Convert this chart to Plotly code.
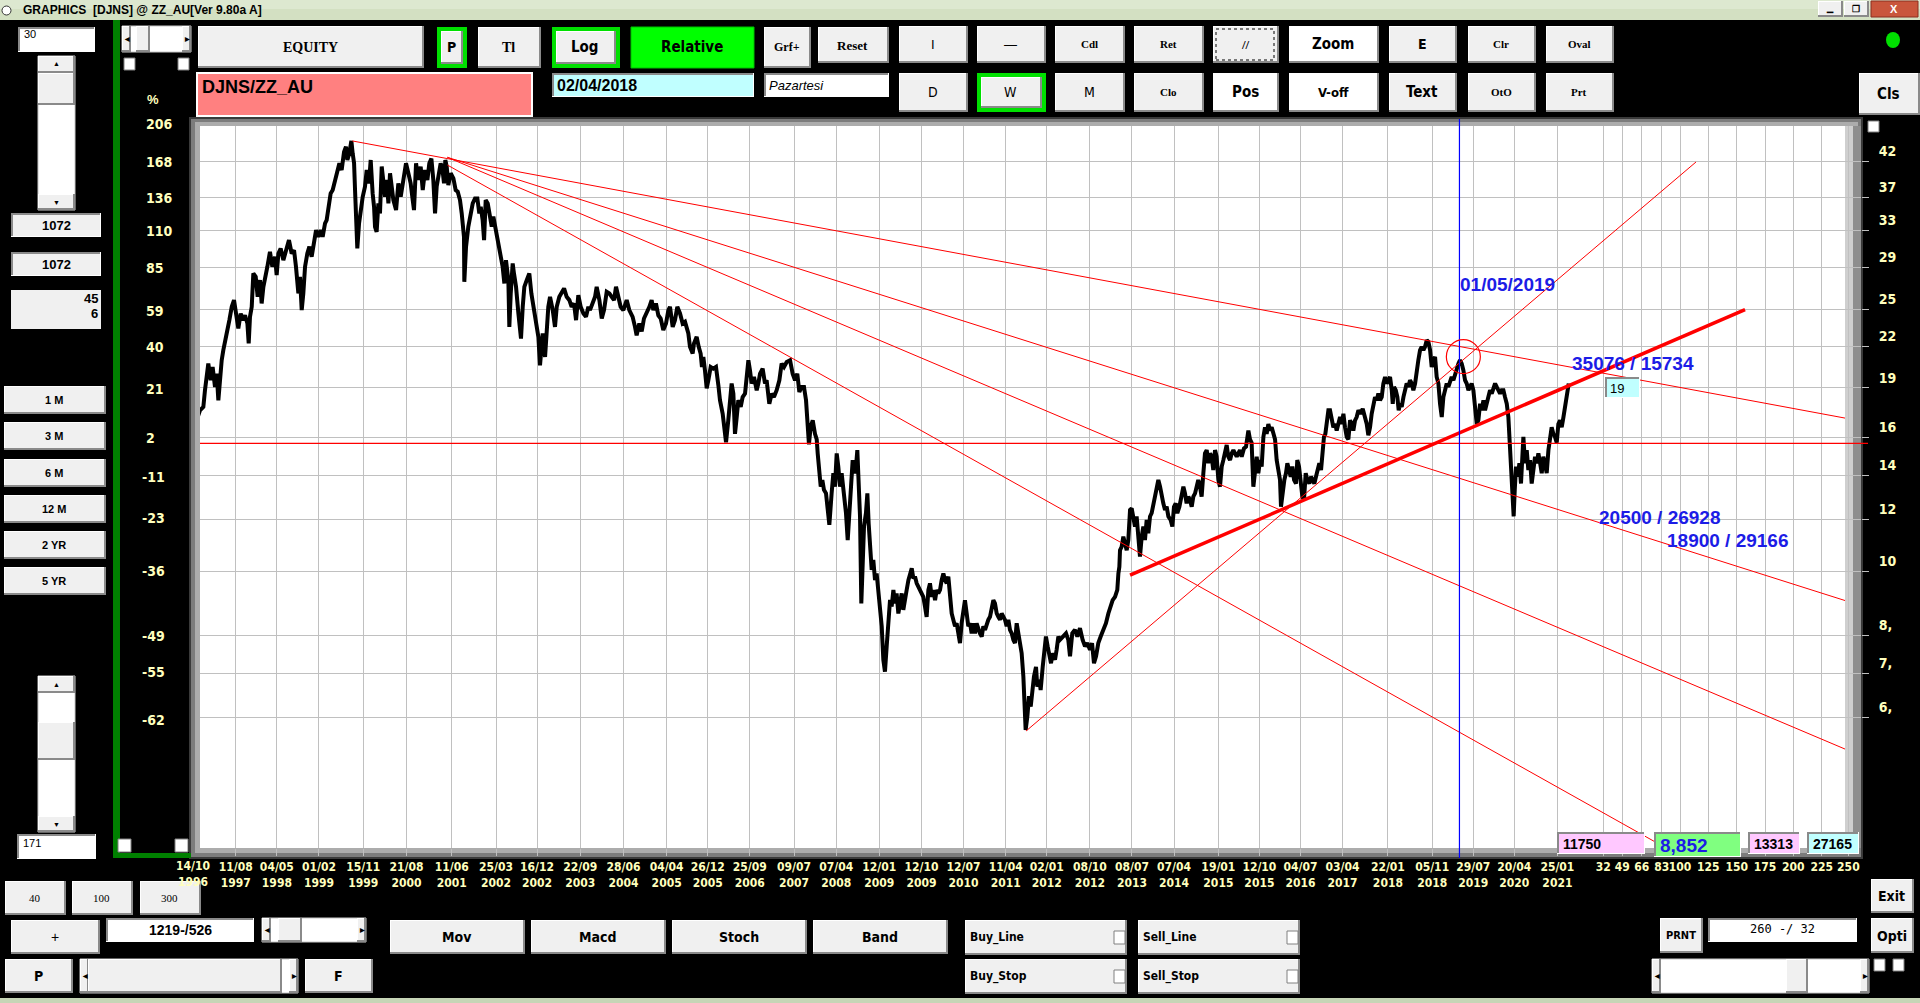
import numpy as np
import pandas as pd
import plotly.graph_objects as go

# ---------------------------------------------------------------------------
# data
# weekly DJNS/ZZ_AU ratio: (weeks after the 14/10/1996 bar, ratio level)
# ---------------------------------------------------------------------------
RATIO_1996_2004 = [
    (2.1, 15.6), (6.7, 16.97), (9.8, 17.57), (12.9, 17.78), (14.4, 18.85), (16.0, 19.75), (17.5, 20.69),
    (19.7, 19.52), (21.5, 20.45), (23.7, 19.07), (25.3, 19.98), (26.8, 18.2), (28.3, 19.98), (29.9, 20.94),
    (31.4, 21.69), (33.0, 22.2), (34.5, 22.99), (37.0, 24.09), (39.2, 25.24), (41.3, 25.84), (43.2, 24.37),
    (45.3, 23.4), (47.5, 24.66), (49.3, 24.09), (51.5, 24.5), (53.7, 23.81), (54.9, 22.2), (56.1, 24.37),
    (57.7, 25.24), (59.2, 28.37), (61.4, 28.04), (63.2, 26.14), (65.4, 27.71), (66.9, 25.54), (68.5, 27.07),
    (70.0, 27.71), (72.2, 29.04), (74.6, 30.6), (76.8, 29.04), (79.3, 30.07), (80.8, 28.2), (82.4, 30.42),
    (84.5, 30.96), (87.0, 29.72), (90.1, 31.15), (92.2, 31.88), (94.7, 30.42), (96.9, 30.78), (98.7, 29.04),
    (100.9, 26.45), (102.4, 28.04), (104.0, 24.95), (105.5, 26.45), (107.1, 29.04), (109.2, 30.42),
    (111.1, 31.15), (113.2, 30.07), (115.4, 31.88), (117.3, 33.01), (119.4, 32.25), (121.6, 33.01),
    (123.4, 32.25), (125.6, 33.79), (127.1, 34.19), (128.7, 35.83), (130.8, 37.54), (132.7, 37.98),
    (134.9, 39.34), (137.0, 40.27), (138.9, 41.71), (141.0, 40.74), (143.2, 43.4), (145.0, 44.2),
    (146.3, 42.19), (148.1, 43.18), (150.0, 45.1), (151.2, 43.18), (152.5, 41.71), (153.4, 37.98),
    (154.3, 33.01), (155.5, 30.96), (157.1, 33.79), (158.6, 35.41), (160.5, 37.1), (162.6, 38.42),
    (164.2, 40.74), (166.3, 38.88), (167.9, 42.19), (169.7, 37.54), (171.0, 35.83), (171.9, 33.4),
    (173.4, 32.82), (175.0, 36.25), (176.5, 35.0), (178.1, 41.23), (179.6, 38.88), (181.2, 37.1),
    (182.7, 39.34), (184.3, 36.25), (185.8, 40.27), (187.3, 37.98), (188.9, 36.67), (191.4, 35.41),
    (193.5, 38.88), (195.7, 37.1), (198.1, 39.8), (200.6, 41.71), (202.8, 40.27), (204.9, 38.88),
    (206.8, 36.67), (208.0, 35.41), (209.9, 41.71), (212.0, 39.34), (214.2, 41.23), (216.1, 37.98),
    (218.2, 40.74), (220.4, 39.34), (222.2, 41.71), (224.1, 42.4), (225.9, 39.34), (227.5, 35.0),
    (229.0, 38.42), (230.6, 40.27), (232.7, 41.71), (234.6, 40.5), (235.8, 38.88), (237.0, 42.19),
    (238.3, 41.23), (239.8, 38.65), (242.0, 40.27), (244.5, 39.57), (246.6, 37.98), (248.5, 37.76),
    (250.6, 36.67), (252.2, 35.0), (253.1, 33.4), (254.3, 32.25), (254.6, 27.55), (256.2, 31.15),
    (258.3, 33.4), (260.5, 35.0), (262.4, 36.25), (264.5, 36.88), (266.7, 36.88), (268.5, 35.0),
    (269.8, 35.83), (271.6, 34.19), (272.9, 31.88), (274.4, 36.67), (276.3, 36.25), (278.4, 34.6),
    (280.0, 33.4), (281.5, 34.6), (284.0, 33.01), (286.1, 31.51), (288.3, 30.42), (290.1, 29.04),
    (291.7, 27.39), (293.2, 29.72), (295.4, 27.71), (296.3, 23.53), (297.6, 26.45), (299.4, 29.38),
    (300.6, 28.37), (302.5, 27.07), (304.7, 24.66), (307.1, 22.59), (308.7, 25.24), (310.2, 27.07),
    (312.4, 27.71), (314.8, 28.37), (316.7, 26.45), (318.6, 25.24), (321.0, 24.09), (323.2, 22.72),
    (324.7, 20.57), (327.2, 22.99), (329.4, 21.18), (330.9, 23.53), (332.4, 25.24), (334.0, 26.14),
    (336.5, 24.95), (338.6, 23.53), (340.2, 25.24), (342.6, 26.14), (344.8, 26.45), (347.0, 26.92),
    (349.4, 26.14), (351.9, 25.84), (354.0, 25.24), (356.2, 25.54), (358.1, 24.09), (360.2, 26.3),
    (362.4, 25.24), (364.9, 24.66), (367.3, 24.37), (369.5, 25.24), (371.0, 24.95), (373.5, 25.54),
    (375.7, 26.14), (377.2, 27.07), (379.7, 25.84), (381.9, 24.23), (384.0, 24.95), (386.5, 26.6),
    (389.0, 26.45), (391.1, 26.14), (393.3, 25.84), (395.1, 27.07), (397.3, 26.14), (399.4, 25.24),
]

RATIO_2004_2011 = [
    (401.9, 24.95), (405.0, 25.84), (407.4, 24.95), (410.5, 24.37), (412.7, 23.53), (414.2, 22.85),
    (416.7, 23.81), (418.9, 23.15), (421.0, 24.23), (423.5, 24.66), (426.0, 25.24), (428.1, 25.84),
    (429.7, 24.95), (432.1, 25.54), (434.3, 24.5), (436.5, 24.23), (438.9, 23.27), (441.4, 23.81),
    (443.6, 24.95), (445.1, 25.24), (447.6, 23.53), (449.7, 24.09), (451.9, 25.24), (454.4, 24.66),
    (456.8, 23.81), (459.0, 23.95), (460.5, 23.53), (462.1, 22.99), (463.6, 21.94), (466.1, 21.43),
    (467.3, 22.2), (469.8, 22.72), (471.7, 21.94), (473.5, 21.43), (474.7, 20.45), (476.0, 21.18),
    (477.5, 20.2), (479.1, 18.97), (480.6, 19.52), (482.8, 20.45), (485.2, 20.33), (487.7, 20.45),
    (489.9, 19.19), (491.4, 18.2), (493.9, 17.36), (495.7, 16.18), (497.0, 15.71), (499.1, 16.97),
    (500.7, 18.2), (502.2, 19.3), (503.8, 18.63), (505.3, 16.18), (506.9, 17.16), (508.4, 18.2),
    (510.6, 17.78), (512.4, 18.4), (514.6, 18.63), (516.1, 19.75), (517.7, 20.94), (519.2, 20.2),
    (520.7, 19.3), (522.9, 19.75), (525.4, 18.85), (526.9, 19.3), (528.5, 19.98), (530.9, 20.33),
    (533.1, 19.3), (534.6, 19.52), (537.1, 17.98), (539.3, 18.63), (541.4, 18.4), (543.9, 18.85),
    (546.4, 19.52), (548.5, 20.69), (550.7, 20.45), (553.2, 20.81), (556.3, 20.94), (558.7, 19.98),
    (560.9, 19.52), (563.0, 19.98), (564.9, 18.74), (567.1, 19.07), (569.2, 19.07), (571.1, 18.2),
    (572.6, 16.97), (573.8, 15.6), (575.4, 16.6), (577.3, 16.97), (579.4, 16.18), (581.0, 15.87),
    (581.9, 15.11), (583.4, 14.1), (584.7, 13.45), (586.2, 13.77), (587.7, 13.3), (589.6, 13.14),
    (591.4, 12.26), (592.7, 11.77), (594.8, 13.14), (596.4, 14.1), (597.9, 13.45), (599.5, 15.11),
    (601.0, 14.43), (602.6, 13.45), (604.1, 14.1), (606.3, 13.14), (608.1, 12.26), (609.7, 11.16),
    (611.2, 12.26), (612.8, 13.14), (614.3, 14.76), (615.8, 14.1), (617.4, 14.43), (618.6, 15.29),
    (619.9, 13.14), (621.1, 12.12), (622.3, 8.94), (623.6, 11.03), (624.8, 11.7), (626.6, 12.26),
    (627.9, 13.14), (629.1, 11.83), (630.4, 11.03), (631.9, 10.05), (633.4, 10.41), (635.0, 9.7),
    (636.5, 9.93), (638.1, 9.26), (639.6, 8.73), (641.2, 8.25), (642.7, 7.34), (644.2, 7.04),
    (645.8, 7.69), (647.3, 8.44), (648.9, 9.05), (650.4, 8.84), (652.0, 9.37), (653.5, 8.94),
    (655.0, 9.26), (656.6, 8.63), (658.1, 9.04), (659.7, 9.26), (661.2, 8.74), (662.8, 9.15),
    (664.3, 9.37), (665.9, 9.7), (667.4, 9.93), (669.0, 10.11), (670.5, 9.76), (672.0, 9.82),
    (673.6, 9.59), (675.1, 9.48), (676.7, 9.37), (678.2, 9.26), (679.7, 9.15), (681.3, 8.84),
    (682.8, 8.53), (684.4, 9.37), (685.9, 9.59), (687.5, 9.15), (689.0, 9.37), (690.6, 9.04),
    (692.1, 9.37), (693.6, 9.26), (695.2, 9.37), (696.7, 9.7), (698.3, 9.93), (699.8, 9.7),
    (701.4, 9.59), (702.9, 9.82), (704.4, 9.26), (706.0, 8.63), (707.5, 8.44), (709.1, 8.25),
    (710.6, 8.34), (712.2, 7.96), (713.7, 7.78), (715.2, 8.34), (716.8, 8.74), (718.3, 9.04),
    (719.9, 8.63), (721.4, 8.25), (723.0, 8.34), (724.5, 8.05), (726.1, 8.34), (727.6, 8.05),
    (729.1, 8.34), (730.7, 8.15), (732.2, 8.05), (733.8, 7.96), (735.3, 8.25), (736.9, 8.15),
    (738.4, 8.34), (739.9, 8.44), (741.5, 8.53), (743.0, 8.84), (744.6, 9.04), (746.1, 8.94),
    (747.7, 8.63), (749.2, 8.53), (750.8, 8.44), (752.3, 8.63), (753.8, 8.53), (755.4, 8.44),
    (756.9, 8.25), (758.5, 8.44), (760.0, 8.15), (761.6, 8.05), (763.1, 7.87), (764.6, 7.78),
    (766.2, 8.34), (767.7, 8.05), (769.3, 7.78), (770.8, 7.51), (772.4, 6.92), (773.3, 6.38),
    (774.5, 5.74), (776.1, 6.02), (777.6, 6.46), (779.2, 6.23), (781.0, 6.68), (782.2, 6.92),
    (784.1, 7.16), (785.3, 6.68), (787.2, 6.84), (788.4, 6.6), (790.3, 7.16), (791.8, 7.51),
    (793.3, 7.96), (794.9, 7.69), (796.4, 7.51), (798.0, 7.25), (799.5, 7.51), (801.7, 7.34),
    (803.2, 7.6), (804.8, 7.96), (806.3, 7.87),
]

RATIO_2011_2017 = [
    (809.4, 7.96), (811.9, 8.05), (814.0, 7.87), (815.6, 7.43), (817.7, 8.05), (820.2, 8.15),
    (822.4, 7.96), (824.8, 8.2), (827.3, 7.87), (829.5, 7.69), (831.6, 7.78), (834.1, 7.6),
    (836.0, 7.78), (837.8, 7.25), (839.7, 7.43), (841.8, 7.78), (844.0, 7.96), (846.5, 8.15),
    (848.9, 8.34), (851.1, 8.63), (853.3, 8.84), (855.1, 9.04), (857.3, 9.15), (859.4, 9.37),
    (860.4, 9.93), (861.3, 10.16), (861.9, 10.77), (863.4, 10.9), (865.0, 11.29), (866.5, 11.03),
    (868.1, 10.77), (869.6, 11.16), (871.2, 12.4), (872.7, 12.47), (874.2, 11.97), (875.8, 11.7),
    (877.3, 12.12), (878.9, 11.16), (880.4, 10.53), (882.0, 11.29), (883.5, 11.7), (885.0, 11.16),
    (886.6, 11.97), (888.1, 11.43), (889.7, 12.12), (891.2, 12.26), (892.8, 12.69), (894.3, 12.99),
    (895.9, 13.6), (897.4, 13.77), (899.0, 13.45), (900.5, 12.99), (902.0, 12.69), (903.6, 12.4),
    (905.1, 12.54), (906.7, 12.12), (908.8, 11.97), (910.4, 11.7), (911.9, 12.54), (913.5, 12.69),
    (915.0, 12.26), (916.9, 12.54), (918.4, 12.84), (920.6, 13.45), (922.1, 13.14), (923.6, 12.69),
    (925.2, 12.99), (926.7, 12.84), (928.3, 12.54), (929.8, 12.99), (931.4, 13.14), (932.9, 13.45),
    (934.4, 13.77), (936.0, 13.45), (937.5, 12.99), (939.1, 14.1), (940.6, 15.11), (942.2, 15.29),
    (943.7, 14.6), (945.3, 15.11), (946.8, 14.94), (948.3, 14.26), (949.9, 15.29), (951.4, 14.94),
    (953.0, 13.77), (954.5, 13.45), (956.1, 14.43), (957.6, 14.76), (959.1, 15.29), (960.7, 15.56),
    (962.2, 14.94), (963.8, 14.76), (965.3, 15.11), (966.9, 15.29), (970.0, 14.94), (973.0, 15.29),
    (974.6, 14.94), (976.7, 15.38), (978.6, 15.47), (979.8, 16.18), (980.8, 16.37), (982.3, 15.87),
    (983.8, 15.69), (985.4, 13.45), (986.9, 14.43), (988.5, 14.94), (990.0, 14.1), (991.6, 14.76),
    (993.1, 14.43), (994.7, 16.01), (996.2, 16.56), (997.7, 16.18), (999.3, 16.75), (1000.8, 16.37),
    (1002.4, 16.56), (1003.9, 16.18), (1005.5, 15.87), (1007.0, 14.76), (1008.5, 14.26), (1010.1, 13.77),
    (1011.0, 12.54), (1012.6, 13.3), (1014.1, 13.77), (1015.6, 14.1), (1016.9, 14.6), (1018.4, 14.26),
    (1020.0, 13.93), (1021.5, 14.43), (1023.1, 13.77), (1024.9, 13.6), (1026.1, 14.76), (1027.7, 14.43),
    (1029.2, 13.77), (1030.8, 12.99), (1032.3, 12.84), (1033.9, 14.1), (1035.4, 13.77), (1037.3, 13.6),
    (1038.8, 13.93), (1040.3, 13.77), (1041.9, 13.6), (1043.4, 13.93), (1045.0, 14.26), (1046.5, 14.6),
    (1048.1, 14.26), (1049.6, 15.47), (1050.8, 16.01), (1052.1, 16.18), (1053.3, 16.75), (1054.9, 17.57),
    (1056.4, 17.57), (1057.9, 16.97), (1059.5, 16.56), (1061.0, 16.75), (1062.6, 16.37), (1064.1, 16.75),
]

RATIO_2017_2021 = [
    (1065.7, 17.16), (1067.2, 16.75), (1068.8, 17.36), (1070.3, 16.56), (1071.9, 16.01), (1073.4, 15.87),
    (1075.0, 16.97), (1076.5, 16.75), (1078.0, 16.37), (1079.6, 16.97), (1081.1, 17.16), (1082.7, 17.57),
    (1084.8, 17.36), (1086.7, 17.67), (1088.9, 17.16), (1090.4, 16.75), (1091.9, 16.1), (1093.5, 16.56),
    (1095.0, 17.36), (1096.6, 17.78), (1098.1, 18.4), (1099.7, 18.2), (1101.2, 18.63), (1102.7, 18.2),
    (1104.3, 18.4), (1105.8, 19.3), (1107.4, 19.75), (1108.9, 19.3), (1110.5, 19.52), (1112.0, 19.75),
    (1113.6, 18.85), (1114.5, 17.98), (1115.7, 19.07), (1117.3, 18.85), (1118.8, 18.4), (1120.0, 17.57),
    (1121.3, 17.98), (1122.8, 17.78), (1124.4, 18.4), (1125.9, 18.85), (1127.4, 19.3), (1129.0, 19.07),
    (1130.5, 19.52), (1132.1, 19.3), (1133.6, 18.85), (1135.2, 19.3), (1136.7, 20.45), (1138.2, 20.94),
    (1139.8, 21.69), (1141.3, 21.94), (1142.9, 21.69), (1144.4, 21.94), (1146.0, 22.46), (1147.5, 22.33),
    (1149.1, 21.69), (1150.6, 20.45), (1152.1, 20.94), (1153.7, 21.18), (1155.2, 19.75), (1156.8, 19.3),
    (1158.3, 17.98), (1159.9, 17.16), (1161.4, 18.4), (1163.0, 18.85), (1164.5, 19.3), (1166.0, 19.07),
    (1167.6, 19.52), (1169.1, 19.75), (1170.7, 19.52), (1172.2, 19.98), (1173.8, 20.22), (1175.3, 20.69),
    (1176.8, 20.94), (1178.4, 20.69), (1179.9, 20.22), (1181.5, 19.52), (1183.0, 19.3), (1184.6, 18.85),
    (1186.1, 19.07), (1187.6, 19.3), (1189.2, 18.85), (1190.7, 17.98), (1192.3, 16.75), (1193.8, 16.97),
    (1195.4, 17.98), (1196.9, 17.57), (1198.5, 18.2), (1200.0, 17.57), (1201.5, 17.98), (1203.1, 18.4),
    (1204.6, 18.85), (1206.2, 18.63), (1207.7, 19.07), (1209.3, 19.3), (1210.8, 19.07), (1212.4, 18.85),
    (1213.9, 18.63), (1215.4, 18.85), (1217.0, 18.85), (1218.5, 18.4), (1220.1, 17.98), (1221.6, 17.16),
    (1222.5, 16.01), (1223.8, 14.43), (1224.7, 13.6), (1225.6, 12.84), (1226.5, 12.12), (1227.5, 13.3),
    (1228.7, 14.43), (1230.3, 13.93), (1231.8, 14.6), (1233.3, 13.6), (1234.6, 15.29), (1235.5, 16.01),
    (1237.0, 14.6), (1238.6, 15.29), (1240.1, 14.26), (1241.7, 14.76), (1243.2, 13.6), (1244.8, 14.26),
    (1246.3, 14.94), (1247.9, 14.6), (1249.4, 15.11), (1251.0, 14.6), (1252.5, 14.1), (1254.0, 14.94),
    (1255.6, 14.43), (1257.1, 14.1), (1258.7, 15.29), (1260.2, 16.01), (1261.7, 16.56), (1263.3, 16.18),
    (1264.8, 16.01), (1266.4, 15.69), (1267.9, 16.75), (1269.5, 16.97), (1271.0, 16.56), (1272.6, 17.16),
    (1274.1, 17.78), (1275.6, 18.4), (1276.6, 19.07), (1277.5, 19.3),
]

BASE_LEVEL = 15.65  # the 0 % line of the relative scale

# trend lines: (week0, level0, week1, level1, width)
TREND_LINES = [
    (150.9, 45.1, 1533.4, 17.1, 1),
    (238.9, 42.59, 1533.4, 9.03, 1),
    (238.9, 42.59, 1533.4, 5.37, 1),
    (238.9, 41.46, 1380.0, 3.70, 1),
    (774.9, 5.72, 1395.4, 41.9, 1),
    (871.2, 9.87, 1440.8, 25.0, 3.5),
]
MARK_DATE = "2019-05-01"
CIRCLE_WEEK, CIRCLE_LEVEL = 1179.9, 21.2

LEFT_PCT_TICKS = [206, 168, 136, 110, 85, 59, 40, 21, 2, -11, -23, -36, -49, -55, -62]
RIGHT_TICKS = [42, 37, 33, 29, 25, 22, 19, 16, 14, 12, 10, 8, 7, 6]
RIGHT_TICK_TEXT = ["42", "37", "33", "29", "25", "22", "19", "16", "14", "12", "10", "8,", "7,", "6,"]
FIRST_DATE = "14/10/1996"
DATE_TICKS = [
    "11/08/1997", "04/05/1998", "01/02/1999", "15/11/1999", "21/08/2000", "11/06/2001", "25/03/2002",
    "16/12/2002", "22/09/2003", "28/06/2004", "04/04/2005", "26/12/2005", "25/09/2006", "09/07/2007",
    "07/04/2008", "12/01/2009", "12/10/2009", "12/07/2010", "11/04/2011", "02/01/2012", "08/10/2012",
    "08/07/2013", "07/04/2014", "19/01/2015", "12/10/2015", "04/07/2016", "03/04/2017", "22/01/2018",
    "05/11/2018", "29/07/2019", "20/04/2020", "25/01/2021",
]
FUTURE_BARS = ["32", "49", "66", "83", "100", "125", "150", "175", "200", "225", "250"]
FUTURE_BAR_WEEKS = [1309.5, 1327.1, 1345.1, 1363.6, 1380.6, 1406.8, 1433.1, 1459.3, 1485.5, 1511.8, 1536.5]
X_RANGE_WEEKS = [9.8, 1548.2]
Y_RANGE_LOG = [0.5796, 1.6769]

# ---------------------------------------------------------------------------
W, H = 1920, 1003
PL, PT, PR, PB = 200, 126, 1861, 848          # plot area on screen
START = pd.Timestamp(1996, 10, 14)

CREAM = "#ffffbe"
GRID = "#c0c0c0"
RED = "#ff0000"
BLUE_TXT = "#1c1ce6"
FACE = "#f0f0f0"
NARROW = "Liberation Sans Narrow, Arial Narrow, DejaVu Sans Condensed, sans-serif"
SANS = "Liberation Sans, Arial, sans-serif"
SERIF = "Liberation Serif, Times New Roman, serif"


def to_date(weeks):
    return START + pd.to_timedelta(np.asarray(weeks, dtype=float) * 7, unit="D")


def px(x):
    return (x - PL) / (PR - PL)


def py(y):
    return (PB - y) / (PB - PT)


shapes = []
notes = []


def rect(x0, y0, x1, y1, fill, line=None, lw=0, layer="above"):
    shapes.append(dict(type="rect", xref="paper", yref="paper", x0=px(x0), x1=px(x1),
                       y0=py(y1), y1=py(y0), fillcolor=fill, layer=layer,
                       line=dict(width=lw, color=line or fill)))


def text(x, y, s, size=13, color="black", family=NARROW, weight="bold", xanchor="center",
         style="normal"):
    notes.append(dict(xref="paper", yref="paper", x=px(x), y=py(y), text=s, showarrow=False,
                      xanchor=xanchor, yanchor="middle",
                      font=dict(size=size, color=color, family=family, weight=weight, style=style)))


def button(x0, y0, x1, y1, s, face=FACE, size=14, family=NARROW, ring=None, weight="bold"):
    if ring:
        rect(x0, y0, x1, y1, ring)
        x0, y0, x1, y1 = x0 + 4, y0 + 4, x1 - 4, y1 - 4
    rect(x0, y0, x1, y1, "#8a8a8a")
    rect(x0, y0, x1 - 2, y1 - 2, "#ffffff")
    rect(x0 + 1, y0 + 1, x1 - 2, y1 - 2, face)
    if s:
        text((x0 + x1) / 2 - 1, (y0 + y1) / 2, s, size=size, family=family, weight=weight)


def field(x0, y0, x1, y1, face="#ffffff"):
    rect(x0, y0, x1, y1, "#ffffff")
    rect(x0, y0, x1 - 1, y1 - 1, "#8a8a8a")
    rect(x0 + 2, y0 + 2, x1 - 1, y1 - 1, face)


def scrollbar(x0, y0, x1, y1, vertical=False, thumb=None):
    rect(x0, y0, x1, y1, "#ffffff", "#c8c8c8", 1)
    if vertical:
        button(x0, y0, x1, y0 + 17, "")
        button(x0, y1 - 16, x1, y1, "")
        text((x0 + x1) / 2, y0 + 8, "▲", size=7, family=SANS)
        text((x0 + x1) / 2, y1 - 8, "▼", size=7, family=SANS)
        if thumb:
            button(x0, thumb[0], x1, thumb[1], "")
    else:
        button(x0, y0, x0 + 9, y1, "")
        button(x1 - 9, y0, x1, y1, "")
        text(x0 + 4.5, (y0 + y1) / 2, "◀", size=6, family=SANS)
        text(x1 - 4.5, (y0 + y1) / 2, "▶", size=6, family=SANS)
        if thumb:
            button(thumb[0], y0, thumb[1], y1, "")


# ---- window chrome ---------------------------------------------------------
rect(0, 0, W, 20, "#d3e0c2")
rect(0, 0, W, 9, "#dde8d0")
shapes.append(dict(type="circle", xref="paper", yref="paper", x0=px(2), x1=px(11), y0=py(15), y1=py(6),
                   fillcolor="#ffffff", line=dict(color="#333333", width=1)))
text(21, 10, "GRAPHICS\u00a0\u00a0[DJNS] @ ZZ_AU[Ver 9.80a A]", size=12, family=SANS, xanchor="left")
button(1818, 1, 1843, 17, "▁", size=8, family=SANS)
button(1844, 1, 1869, 17, "❐", size=9, family=SANS)
rect(1871, 1, 1918, 17, "#c9563c", "#8a2f1f", 1)
text(1894, 9, "X", size=11, color="white", family=SANS)
rect(0, 998, W, H, "#c6d5b6")

# ---- plot frame (sunken bevel) ---------------------------------------------
rect(189, 117, 1863, 859, "#3a3a3a", layer="below")
rect(191, 119, 1861, 857, "#7c7c7c", layer="below")
rect(195, 122, 1858, 853, "#acacac", layer="below")
rect(1845, PT, 1853, PB, "#cfcfcf", layer="below")
rect(1853, PT, 1861, PB, "#8e8e8e", layer="below")
rect(PL, PT, 1845, PB, "#ffffff", layer="below")

# ---- left panel -------------------------------------------------------------
rect(113, 20, 120, 858, "#008000")
rect(113, 853, 191, 858, "#008000")
field(18, 27, 95, 52)
text(22, 34, "30", size=11, family=SANS, weight="normal", xanchor="left")
scrollbar(122, 26, 191, 52, thumb=(136, 150))
rect(124, 58, 135, 70, "#ffffff", "#808080", 1)
rect(178, 58, 189, 70, "#ffffff", "#808080", 1)
scrollbar(38, 56, 75, 210, vertical=True, thumb=(73, 105))
for y0, s in [(213, "1072"), (252, "1072")]:
    field(11, y0, 101, y0 + 24, FACE)
    text(56, y0 + 12, s, size=13, family=SANS)
rect(11, 290, 101, 329, FACE)
text(100, 298, "45", size=13, family=SANS, xanchor="right")
text(100, 313, "6", size=13, family=SANS, xanchor="right")
for y0, s in [(386, "1 M"), (422, "3 M"), (459, "6 M"), (495, "12 M"), (531, "2 YR"), (567, "5 YR")]:
    button(4, y0, 106, y0 + 28, s, size=11, family=SANS)
scrollbar(38, 676, 75, 832, vertical=True, thumb=(722, 760))
field(17, 834, 96, 859)
text(21, 843, "171", size=11, family=SANS, weight="normal", xanchor="left")
rect(118, 839, 131, 852, "#ffffff", "#808080", 1)
rect(175, 839, 188, 852, "#ffffff", "#808080", 1)
text(153, 100, "%", size=13, color=CREAM, family=SANS)

# ---- top toolbar ------------------------------------------------------------
button(198, 26, 424, 68, "EQUITY", size=14, family=SERIF)
button(437, 27, 467, 68, "P", ring="#00e000", size=14)
button(478, 27, 541, 68, "Tl", size=14, family=SERIF)
button(552, 27, 620, 68, "Log", ring="#00e000", size=15)
rect(631, 27, 754, 68, "#00ff00", "#00c000", 1)
text(692, 47, "Relative", size=15)
button(764, 27, 811, 68, "Grf+", size=12, family=SERIF)
button(818, 27, 889, 63, "Reset", size=13, family=SERIF)
row1 = [(899, 968, "I", FACE, SANS, 13), (977, 1046, "—", FACE, SANS, 13), (1055, 1125, "Cdl", FACE, SERIF, 11),
        (1134, 1204, "Ret", FACE, SERIF, 11), (1213, 1279, "//", FACE, SERIF, 13),
        (1289, 1379, "Zoom", "#ffffff", NARROW, 15), (1389, 1457, "E", FACE, NARROW, 14),
        (1468, 1536, "Clr", FACE, SERIF, 11), (1546, 1614, "Oval", FACE, SERIF, 11)]
for x0, x1, s, face, fam, sz in row1:
    button(x0, 26, x1, 63, s, face=face, size=sz, family=fam, weight="bold" if fam != SANS else "normal")
shapes.append(dict(type="rect", xref="paper", yref="paper", x0=px(1216), x1=px(1274), y0=py(60), y1=py(29),
                   line=dict(color="#000000", width=1, dash="dot"), fillcolor="rgba(0,0,0,0)"))
row2 = [(899, 968, "D", FACE, NARROW, 14), (977, 1046, "W", FACE, NARROW, 14), (1055, 1125, "M", FACE, NARROW, 14),
        (1134, 1204, "Clo", FACE, SERIF, 11), (1213, 1279, "Pos", "#ffffff", NARROW, 15),
        (1289, 1379, "V-off", "#ffffff", NARROW, 13), (1389, 1457, "Text", FACE, NARROW, 15),
        (1468, 1536, "OtO", FACE, SERIF, 11), (1546, 1614, "Prt", FACE, SERIF, 11)]
for x0, x1, s, face, fam, sz in row2:
    button(x0, 73, x1, 112, s, face=face, size=sz, family=fam,
           ring="#00e000" if s == "W" else None, weight="normal" if s in ("D", "W", "M") else "bold")
button(1859, 73, 1920, 115, "Cls", size=15)
shapes.append(dict(type="circle", xref="paper", yref="paper", x0=px(1886), x1=px(1900), y0=py(48), y1=py(32),
                   fillcolor="#00e000", line=dict(width=0)))
rect(1868, 121, 1879, 132, "#ffffff", "#808080", 1)

rect(196, 72, 533, 117, "#ffffff")
rect(198, 74, 531, 115, "#ff8080")
text(200, 87, "DJNS/ZZ_AU", size=18, family=SANS, xanchor="left")
field(552, 73, 754, 97, "#c0ffff")
text(555, 85, "02/04/2018", size=16, family=SANS, xanchor="left")
field(764, 73, 889, 97)
text(767, 85, "Pazartesi", size=13, family=SANS, weight="normal", style="italic", xanchor="left")

# ---- bottom panel -----------------------------------------------------------
for x0, s in [(5, "40"), (72, "100"), (140, "300")]:
    button(x0, 881, x0 + 61, 915, s, size=11, family=SERIF, weight="normal")
button(11, 920, 100, 954, "+", size=14, family=SANS, weight="normal")
field(106, 918, 254, 942)
text(180, 930, "1219-/526", size=14, family=SANS)
scrollbar(262, 918, 366, 942, thumb=(278, 302))
button(5, 959, 73, 993, "P", size=14)
scrollbar(80, 959, 298, 993, thumb=(88, 282))
button(305, 959, 373, 993, "F", size=14)
for x0, s in [(390, "Mov"), (531, "Macd"), (672, "Stoch"), (813, "Band")]:
    button(x0, 920, x0 + 135, 954, s, size=14)
for x0, y0, s in [(965, 920, "Buy_Line"), (1138, 920, "Sell_Line"), (965, 959, "Buy_Stop"), (1138, 959, "Sell_Stop")]:
    button(x0, y0, x0 + 162, y0 + 35, "")
    text(x0 + 3, y0 + 17, s, size=12, xanchor="left")
    rect(x0 + 149, y0 + 11, x0 + 160, y0 + 24, "#ffffff", "#808080", 1)
button(1660, 918, 1703, 953, "PRNT", size=11)
field(1708, 918, 1857, 942)
text(1782, 929, "260 -/ 32", size=12, family="DejaVu Sans Mono, monospace", weight="normal")
button(1871, 879, 1914, 913, "Exit", size=14)
button(1871, 918, 1914, 953, "Opti", size=14)
scrollbar(1652, 959, 1869, 993, thumb=(1786, 1808))
rect(1874, 959, 1885, 971, "#ffffff", "#808080", 1)
rect(1893, 959, 1904, 971, "#ffffff", "#808080", 1)

# ---- boxes on the chart -----------------------------------------------------
for x0, x1, y1, fill, s, col, sz in [(1557, 1645, 854, "#ffc8ff", "11750", "black", 14),
                                       (1654, 1741, 857, "#80ff80", "8,852", BLUE_TXT, 19),
                                       (1748, 1800, 854, "#ffc8ff", "13313", "black", 14),
                                       (1807, 1859, 854, "#c0ffff", "27165", "black", 14)]:
    field(x0, 832, x1, y1, fill)
    text(x0 + 4, (832 + y1) / 2 + 1, s, size=sz, color=col, family=SANS, xanchor="left")
field(1605, 377, 1640, 398, "#c0ffff")
text(1608, 388, "19", size=13, family=SANS, weight="normal", xanchor="left")

for s, x, y in [("01/05/2019", 1458, 284), ("35076 / 15734", 1570, 363),
                ("20500 / 26928", 1597, 517), ("18900 / 29166", 1665, 540)]:
    text(x, y, s, size=19, color=BLUE_TXT, family=SANS, xanchor="left")

# ---- axis helpers (data -> paper fraction) ---------------------------------
x_range = to_date(X_RANGE_WEEKS)
y2_range = [Y_RANGE_LOG[0] - np.log10(BASE_LEVEL), Y_RANGE_LOG[1] - np.log10(BASE_LEVEL)]


def frac_x(d):
    return (pd.Timestamp(d) - x_range[0]) / (x_range[1] - x_range[0])


def frac_y(level):
    return (np.log10(level) - Y_RANGE_LOG[0]) / (Y_RANGE_LOG[1] - Y_RANGE_LOG[0])


# left (relative %) scale labels, placed on the relative axis scale
for p in LEFT_PCT_TICKS:
    fy = (np.log10(1 + p / 100) - y2_range[0]) / (y2_range[1] - y2_range[0])
    notes.append(dict(xref="paper", yref="paper", x=px(144 if p >= 0 else 140), y=fy,
                      text=str(p), showarrow=False, xanchor="left", yanchor="middle",
                      font=dict(size=14, color=CREAM, family=NARROW, weight="bold")))
# the first date label sits left of the visible range
text(192.7, 866, FIRST_DATE[:5], size=12, color=CREAM)
text(192.7, 882, FIRST_DATE[6:], size=12, color=CREAM)

# ---- traces -----------------------------------------------------------------
ratio = RATIO_1996_2004 + RATIO_2004_2011 + RATIO_2011_2017 + RATIO_2017_2021
weeks = [w for w, _ in ratio]
levels = [v for _, v in ratio]

fig = go.Figure()
fig.add_trace(go.Scatter(x=to_date(weeks), y=levels, mode="lines", line=dict(color="black", width=4),
                         hoverinfo="skip", showlegend=False))
for w0, v0, w1, v1, lw in TREND_LINES:
    fig.add_trace(go.Scatter(x=to_date([w0, w1]), y=[v0, v1], mode="lines",
                             line=dict(color=RED, width=lw), hoverinfo="skip", showlegend=False))

shapes.append(dict(type="line", xref="paper", yref="y", x0=0, x1=px(1868), y0=BASE_LEVEL, y1=BASE_LEVEL,
                   line=dict(color=RED, width=1.2), layer="above"))
shapes.append(dict(type="line", xref="x", yref="paper", x0=MARK_DATE, x1=MARK_DATE, y0=py(858), y1=py(119),
                   line=dict(color="#0000ff", width=1.2), layer="above"))
cxf = frac_x(to_date([CIRCLE_WEEK])[0])
cyf = frac_y(CIRCLE_LEVEL)
rx, ry = 17 / (PR - PL), 17 / (PB - PT)
shapes.append(dict(type="circle", xref="paper", yref="paper", x0=cxf - rx, x1=cxf + rx, y0=cyf - ry, y1=cyf + ry,
                   line=dict(color=RED, width=1.2), layer="above"))

date_ticks = pd.to_datetime(DATE_TICKS, format="%d/%m/%Y")
future = to_date(FUTURE_BAR_WEEKS)

tick_font = dict(size=12, color=CREAM, family=NARROW, weight="bold")
fig.update_layout(
    width=W, height=H,
    margin=dict(l=PL, r=W - PR, t=PT, b=H - PB, pad=0),
    paper_bgcolor="black", plot_bgcolor="white",
    showlegend=False,
    shapes=shapes, annotations=notes,
    xaxis=dict(type="date", range=list(x_range), tickmode="array",
               tickvals=list(date_ticks) + list(future),
               ticktext=[d.strftime("%d/%m") for d in date_ticks] + FUTURE_BARS,
               showgrid=True, gridcolor=GRID, gridwidth=1, zeroline=False, showline=False, tickangle=0,
               ticks="outside", ticklen=7, tickcolor=GRID, tickfont=tick_font, ticklabelstandoff=1),
    xaxis2=dict(type="date", overlaying="x", anchor="y", side="bottom", range=list(x_range),
                tickmode="array", tickvals=list(date_ticks), ticktext=[d.strftime("%Y") for d in date_ticks],
                showgrid=False, zeroline=False, showline=False, ticks="outside", ticklen=23, tickangle=0,
                tickcolor="rgba(0,0,0,0)", tickfont=tick_font, ticklabelstandoff=1),
    yaxis=dict(type="log", side="right", range=Y_RANGE_LOG, tickmode="array", tickvals=RIGHT_TICKS,
               ticktext=RIGHT_TICK_TEXT, showgrid=True, gridcolor=GRID, gridwidth=1, zeroline=False,
               showline=False, ticks="outside", ticklen=7, tickcolor=GRID,
               tickfont=dict(size=14, color=CREAM, family=NARROW, weight="bold"),
               ticklabelposition="outside top", ticklabelstandoff=14),
    yaxis2=dict(type="log", side="left", overlaying="y", range=y2_range,
                showgrid=False, zeroline=False, showline=False, showticklabels=False, ticks=""),
)
# an empty trace keeps the year-row axis alive
fig.add_trace(go.Scatter(x=[x_range[0]], y=[None], xaxis="x2", yaxis="y", showlegend=False, hoverinfo="skip"))

fig.write_html("out.html", config={"displayModeBar": False},
               post_script="document.body.style.margin='0';document.body.style.overflow='hidden';"
                           "document.body.style.background='black';")
